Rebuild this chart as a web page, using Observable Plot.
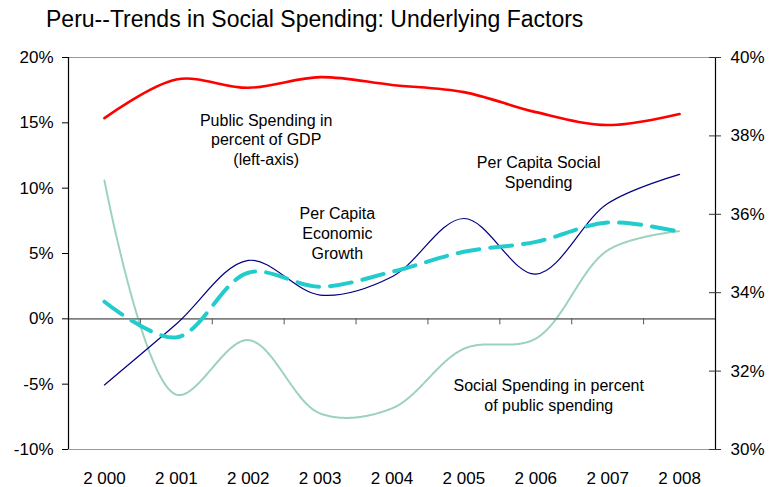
<!DOCTYPE html>
<html>
<head>
<meta charset="utf-8">
<script src="https://cdn.jsdelivr.net/npm/d3@7"></script>
<script src="https://cdn.jsdelivr.net/npm/@observablehq/plot@0.6"></script>
<style>
  html, body { margin: 0; padding: 0; background: #fff; }
  body { width: 774px; height: 487px; overflow: hidden; font-family: "Liberation Sans", Arial, sans-serif; }
  #title { box-sizing: border-box; height: 40px; padding: 8px 0 0 46px; font-size: 23px; line-height: 1; color: #000; white-space: nowrap; }
  #chart svg { display: block; }
</style>
</head>
<body>
<div id="title">Peru--Trends in Social Spending: Underlying Factors</div>
<div id="chart"></div>
<script>
// ---- data ----
const years = [2000, 2001, 2002, 2003, 2004, 2005, 2006, 2007, 2008];
const yearLabels = ["2 000", "2 001", "2 002", "2 003", "2 004", "2 005", "2 006", "2 007", "2 008"];
// left axis series (%)
const publicSpendingGDP = [15.36, 18.32, 17.68, 18.5, 17.9, 17.35, 15.82, 14.83, 15.67];
const perCapitaSocialSpending = [-5.06, -0.4, 4.47, 1.82, 3.22, 7.68, 3.42, 8.82, 11.06];
const perCapitaGrowth = [1.31, -1.42, 3.53, 2.46, 3.6, 5.13, 5.89, 7.37, 6.66];
// right axis series (%)
const socialShareOfPublic = [36.86, 31.4, 32.79, 30.92, 31.05, 32.57, 32.83, 35.08, 35.57];
// axis ticks
const leftTicks = [-10, -5, 0, 5, 10, 15, 20];
const rightTicks = [30, 32, 34, 36, 38, 40];
// annotation labels (anchor in year / left-axis % units)
const annotations = [
  {text: "Public Spending in\npercent of GDP\n(left-axis)", year: 2002.25, value: 13.75},
  {text: "Per Capita\nEconomic\nGrowth", year: 2003.24, value: 6.58},
  {text: "Per Capita Social\nSpending", year: 2006.04, value: 11.24},
  {text: "Social Spending in percent\nof public spending", year: 2006.18, value: -5.82}
];

// ---- build ----
const leftDomain = [leftTicks[0], leftTicks[leftTicks.length - 1]];
const rightDomain = [rightTicks[0], rightTicks[rightTicks.length - 1]];
const toLeft = d3.scaleLinear(rightDomain, leftDomain);
const xMin = years[0] - 0.5, xMax = years[years.length - 1] + 0.5;
const boundaries = [...years.map(y => y - 0.5), xMax];

const rows = (vals) => years.map((y, i) => ({year: y, value: vals[i]}));
const redData = rows(publicSpendingGDP);
const navyData = rows(perCapitaSocialSpending);
const cyanData = rows(perCapitaGrowth);
const greenData = years.map((y, i) => ({year: y, value: toLeft(socialShareOfPublic[i])}));
const rightTickPos = rightTicks.map(toLeft);

const font = "Liberation Sans, Arial, sans-serif";

const chart = Plot.plot({
  width: 774,
  height: 447,
  marginTop: 17,
  marginBottom: 38,
  marginLeft: 68,
  marginRight: 59,
  style: {fontFamily: font, fontSize: "17px", color: "#000", background: "#fff", overflow: "visible"},
  x: {type: "linear", domain: [xMin, xMax], axis: null, label: null},
  y: {type: "linear", domain: leftDomain, axis: null, label: null},
  marks: [
    // frame top / bottom (gray)
    Plot.ruleY([leftDomain[1], leftDomain[0]], {stroke: "#9a9a9a", strokeWidth: 1.2}),
    // zero line with category tick marks
    Plot.ruleY([0], {stroke: "#7f7f7f", strokeWidth: 1.6}),
    Plot.ruleX(boundaries, {y1: 0, y2: 0, insetBottom: -6, stroke: "#555", strokeWidth: 1}),
    // left & right axes lines
    Plot.ruleX([xMin, xMax], {stroke: "#000", strokeWidth: 1.2}),
    // right axis crossing ticks
    Plot.ruleY(rightTickPos, {x1: xMax, x2: xMax, insetLeft: -6, insetRight: -6, stroke: "#333"}),
    // axes
    Plot.axisY(leftTicks, {anchor: "left", label: null, tickSize: 6, tickPadding: 9, tickFormat: d => d + "%", fontSize: 17}),
    Plot.axisY(rightTickPos, {anchor: "right", label: null, tickSize: 0, tickPadding: 15,
      tickFormat: d => rightTicks[rightTickPos.indexOf(d)] + "%", fontSize: 17}),
    Plot.axisX(years, {anchor: "bottom", label: null, tickSize: 0, tickPadding: 22,
      tickFormat: d => yearLabels[years.indexOf(d)], fontSize: 17}),
    // series
    Plot.line(greenData, {x: "year", y: "value", curve: "catmull-rom", stroke: "#3aa37e", strokeWidth: 2, strokeDasharray: "1 1", strokeOpacity: 0.5}),
    Plot.line(navyData, {x: "year", y: "value", curve: "catmull-rom", stroke: "#000080", strokeWidth: 1.2}),
    Plot.line(cyanData, {x: "year", y: "value", curve: "catmull-rom", stroke: "#22cccc", strokeWidth: 4, strokeDasharray: "22 11"}),
    Plot.line(redData, {x: "year", y: "value", curve: "catmull-rom", stroke: "#ff0000", strokeWidth: 2.6}),
    // annotations
    Plot.text(annotations, {x: "year", y: "value", text: "text", lineAnchor: "middle", textAnchor: "middle",
      lineHeight: 1.23, fontSize: 16, fill: "#000"})
  ]
});
document.getElementById("chart").appendChild(chart);
</script>
</body>
</html>
